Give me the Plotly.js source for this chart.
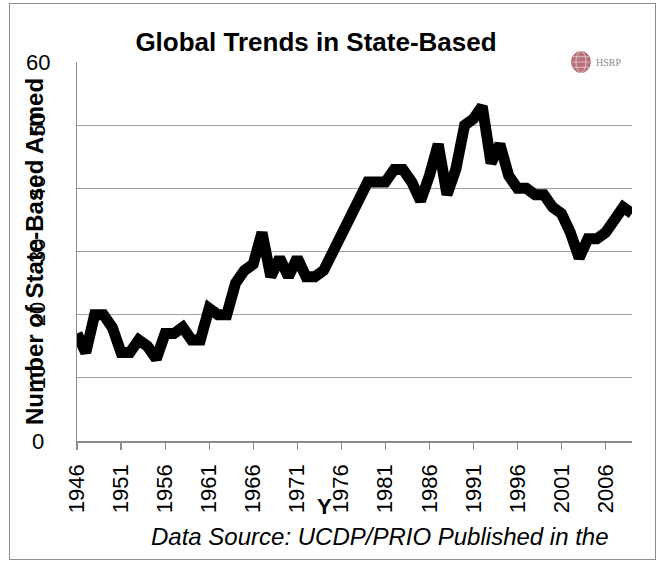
<!DOCTYPE html>
<html>
<head>
<meta charset="utf-8">
<script src="https://cdn.plot.ly/plotly-3.0.1.min.js"></script>
<style>
  html, body { margin: 0; padding: 0; background: #fff; }
  #wrap { position: relative; width: 660px; height: 562px; }
  #chart { position: absolute; left: 0; top: 0; width: 660px; height: 562px; }
  #frame { position: absolute; left: 9px; top: 3px; width: 647px; height: 557px;
           border: 1.5px solid #8c8c8c; box-sizing: border-box; pointer-events: none; }
</style>
</head>
<body>
<div id="wrap">
  <div id="chart"></div>
  <div id="frame"></div>
</div>
<script>
// ---- data ----
const years = [1946,1947,1948,1949,1950,1951,1952,1953,1954,1955,
               1956,1957,1958,1959,1960,1961,1962,1963,1964,1965,
               1966,1967,1968,1969,1970,1971,1972,1973,1974,1975,
               1976,1977,1978,1979,1980,1981,1982,1983,1984,1985,
               1986,1987,1988,1989,1990,1991,1992,1993,1994,1995,
               1996,1997,1998,1999,2000,2001,2002,2003,2004,2005,
               2006,2007,2008,2009];
const conflicts = [17,14,20,20,18,14,14,16,15,13,
                   17,17,18,16,16,21,20,20,25,27,
                   28,33,26,29,26,29,26,26,27,30,
                   32,36,38,41,41,41,43,43,41,38,
                   42,47,39,43,50,51,53,44,47,42,
                   40,40,39,39,37,36,33,29,32,32,
                   33,35,37,36];
const xTickVals = [1946,1951,1956,1961,1966,1971,1976,1981,1986,1991,1996,2001,2006];
const xTickText = ['1946','1951','1956','1961','1966','1971','1976','1981','1986','1991','1996','2001','2006'];
const yTickVals = [0,10,20,30,40,50,60];
const yTickText = ['0','10','20','30','40','50','60'];

const titleText = 'Global Trends in State-Based';
const yTitleText = 'Number of State-Based Armed';
const xTitleText = 'Y';
const sourceText = 'Data Source: UCDP/PRIO Published in the';
const logoText = 'HSRP';

// ---- styling ----
const FONT = 'Liberation Sans, Arial, sans-serif';
const GRID = '#a3a3a3';

const trace = {
  x: years, y: conflicts, type: 'scatter', mode: 'lines',
  line: { color: '#000000', width: 11, shape: 'linear' },
  hoverinfo: 'x+y', showlegend: false
};

const annotations = [];
yTickVals.forEach((v, i) => {
  const ends = (v === 0 || v === 60);
  annotations.push({
    text: yTickText[i], xref: 'paper', yref: 'y', x: -0.071, y: v,
    xanchor: 'center', yanchor: 'middle', showarrow: false,
    textangle: ends ? 0 : -90,
    font: { family: FONT, size: 22, color: '#000' }
  });
});
annotations.push({
  text: xTitleText, xref: 'paper', yref: 'paper', x: 0.446, y: -0.172,
  xanchor: 'center', yanchor: 'middle', showarrow: false,
  font: { family: FONT, size: 22, color: '#000', weight: 'bold' }
});
annotations.push({
  text: '<i>' + sourceText + '</i>', xref: 'paper', yref: 'paper', x: 0.546, y: -0.253,
  xanchor: 'center', yanchor: 'middle', showarrow: false,
  font: { family: FONT, size: 24, color: '#000' }
});
annotations.push({
  text: logoText, xref: 'paper', yref: 'paper', x: 0.957, y: 1.0,
  xanchor: 'center', yanchor: 'middle', showarrow: false,
  font: { family: 'Liberation Serif, DejaVu Serif, serif', size: 10, color: '#8a8a8a' }
});

const shapes = [
  // white backing behind the logo (interrupts top gridline)
  { type: 'rect', xref: 'paper', yref: 'paper', x0: 0.888, x1: 0.978, y0: 0.975, y1: 1.03,
    fillcolor: '#ffffff', line: { width: 0 }, layer: 'above' },
  // globe
  { type: 'circle', xref: 'paper', yref: 'paper', x0: 0.891, x1: 0.925, y0: 0.972, y1: 1.028,
    fillcolor: '#b8747c', line: { color: '#a65a64', width: 0.8 }, layer: 'above' },
  { type: 'circle', xref: 'paper', yref: 'paper', x0: 0.899, x1: 0.917, y0: 0.972, y1: 1.028,
    fillcolor: 'rgba(0,0,0,0)', line: { color: '#f0d6d8', width: 0.7 }, layer: 'above' },
  { type: 'line', xref: 'paper', yref: 'paper', x0: 0.892, x1: 0.924, y0: 1.0, y1: 1.0,
    line: { color: '#f0d6d8', width: 0.7 }, layer: 'above' },
  { type: 'line', xref: 'paper', yref: 'paper', x0: 0.894, x1: 0.922, y0: 1.014, y1: 1.014,
    line: { color: '#f0d6d8', width: 0.7 }, layer: 'above' },
  { type: 'line', xref: 'paper', yref: 'paper', x0: 0.894, x1: 0.922, y0: 0.986, y1: 0.986,
    line: { color: '#f0d6d8', width: 0.7 }, layer: 'above' }
];

const layout = {
  width: 660, height: 562,
  margin: { l: 77, r: 28, t: 62, b: 121, autoexpand: false },
  paper_bgcolor: '#ffffff', plot_bgcolor: '#ffffff',
  font: { family: FONT, color: '#000' },
  title: {
    text: titleText, xref: 'container', yref: 'container',
    x: 316 / 660, xanchor: 'center', y: 1 - 42 / 562, yanchor: 'middle',
    font: { family: FONT, size: 26, color: '#000', weight: 'bold' }
  },
  xaxis: {
    type: 'linear', range: [1946, 2009], fixedrange: true,
    tickmode: 'array', tickvals: xTickVals, ticktext: xTickText,
    tickangle: -90, ticks: 'outside', ticklen: 7, tickwidth: 1.2, tickcolor: '#8c8c8c',
    ticklabelstandoff: 6,
    tickfont: { family: FONT, size: 22, color: '#000' },
    showgrid: false, zeroline: false,
    showline: true, linecolor: '#8c8c8c', linewidth: 1.5,
    automargin: false
  },
  yaxis: {
    range: [0, 60], fixedrange: true,
    tickmode: 'array', tickvals: yTickVals, showticklabels: false,
    ticks: '', showgrid: true, gridcolor: GRID, gridwidth: 1.2,
    zeroline: false, showline: true, linecolor: '#8c8c8c', linewidth: 1.5,
    automargin: false,
    title: { text: yTitleText, standoff: 25,
             font: { family: FONT, size: 24, color: '#000', weight: 'bold' } }
  },
  annotations: annotations,
  shapes: shapes,
  showlegend: false
};

Plotly.newPlot('chart', [trace], layout, { displayModeBar: false, staticPlot: true });
</script>
</body>
</html>
